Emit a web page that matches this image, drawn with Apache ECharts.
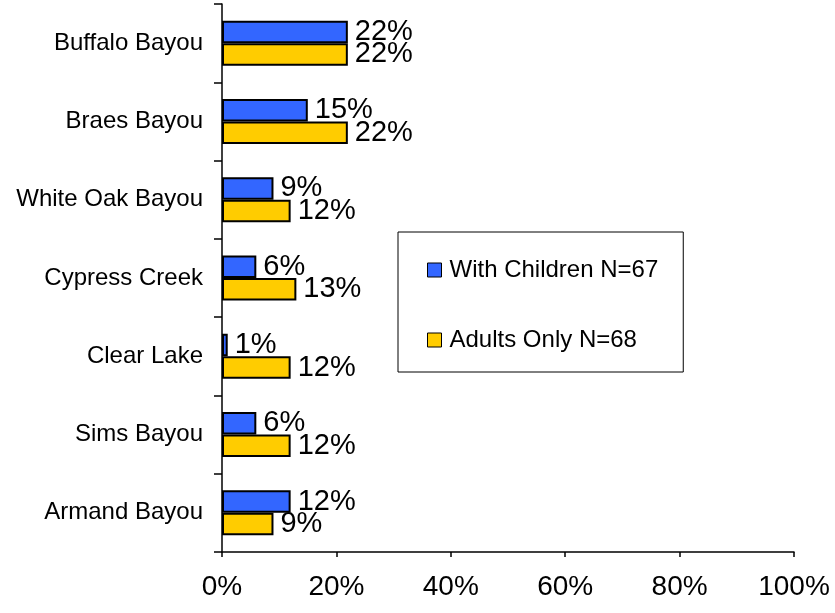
<!DOCTYPE html>
<html>
<head>
<meta charset="utf-8">
<script src="https://cdn.jsdelivr.net/npm/echarts@6/dist/echarts.min.js"></script>
<style>
  html, body { margin: 0; padding: 0; background: #fff; }
  #chart { width: 835px; height: 613px; }
</style>
</head>
<body>
<div id="chart"></div>
<script>
const categories = ["Buffalo Bayou", "Braes Bayou", "White Oak Bayou", "Cypress Creek", "Clear Lake", "Sims Bayou", "Armand Bayou"];
const withChildren = [22, 15, 9, 6, 1, 6, 12];
const adultsOnly = [22, 22, 12, 13, 12, 12, 9];
const xTicks = [0, 20, 40, 60, 80, 100];

const chart = echarts.init(document.getElementById("chart"));

const barLabel = {
  show: true,
  position: "right",
  distance: 7,
  formatter: "{c}%",
  color: "#000",
  fontSize: 29,
  fontFamily: "Liberation Sans",
};

chart.setOption({
  backgroundColor: "#fff",
  animation: false,
  textStyle: { fontFamily: "Liberation Sans" },
  grid: { left: 222, right: 41, top: 4, bottom: 61, containLabel: false },
  legend: {
    orient: "vertical",
    left: 398,
    top: 232,
    padding: [26, 25, 20, 29],
    itemGap: 46,
    itemWidth: 14,
    itemHeight: 14,
    borderColor: "#000",
    borderWidth: 1,
    backgroundColor: "#fff",
    selectedMode: false,
    icon: "rect",
    itemStyle: { borderColor: "#000", borderWidth: 1 },
    textStyle: { fontSize: 24, lineHeight: 24, color: "#000", padding: [0, 0, 0, 3] },
    data: ["With Children N=67", "Adults Only N=68"],
  },
  xAxis: {
    type: "value",
    min: 0,
    max: 100,
    interval: 20,
    axisLine: { show: true, lineStyle: { color: "#000", width: 1.5 } },
    axisTick: { show: true, length: 5, lineStyle: { color: "#000", width: 1.5 } },
    splitLine: { show: false },
    axisLabel: {
      formatter: (v) => (xTicks.includes(v) ? v + "%" : ""),
      fontSize: 28,
      color: "#000",
      margin: 21,
    },
  },
  yAxis: {
    type: "category",
    inverse: true,
    data: categories,
    axisLine: { show: true, lineStyle: { color: "#000", width: 1.5 } },
    axisTick: { show: true, length: 8, lineStyle: { color: "#000", width: 1.5 } },
    axisLabel: { fontSize: 24, color: "#000", margin: 19 },
  },
  series: [
    {
      name: "With Children N=67",
      type: "bar",
      data: withChildren,
      barWidth: 22.5,
      barGap: "0%",
      itemStyle: { color: "#3366FF", borderColor: "#000", borderWidth: 2 },
      label: barLabel,
    },
    {
      name: "Adults Only N=68",
      type: "bar",
      data: adultsOnly,
      barWidth: 22.5,
      barGap: "0%",
      itemStyle: { color: "#FFCC00", borderColor: "#000", borderWidth: 2 },
      label: barLabel,
    },
  ],
});
</script>
</body>
</html>
